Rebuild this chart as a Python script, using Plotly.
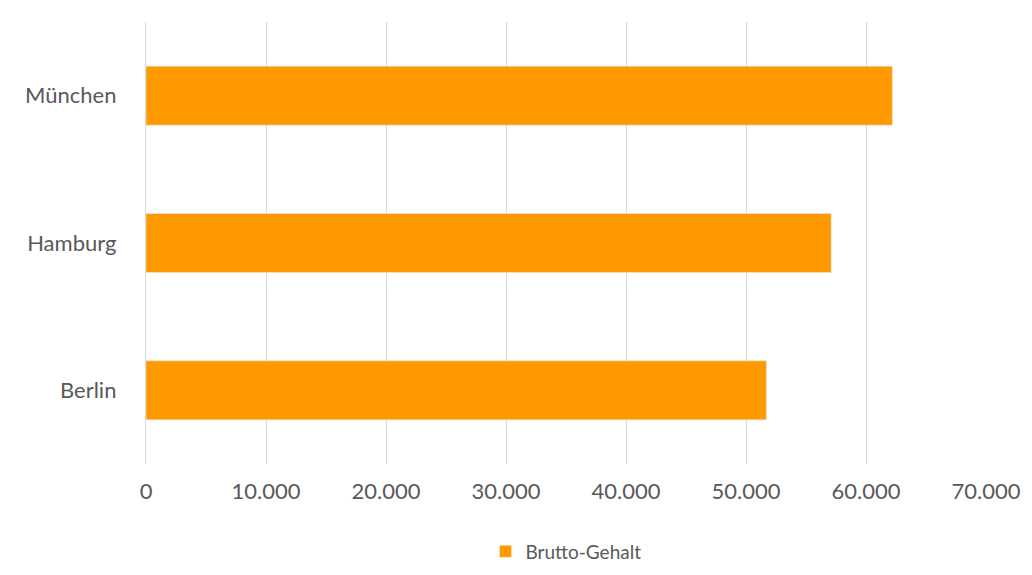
import plotly.graph_objects as go

cities = ["Berlin", "Hamburg", "München"]
salaries = [51700, 57100, 62200]
series_name = "Brutto-Gehalt"

fig = go.Figure(go.Bar(
    y=cities, x=salaries, orientation="h", name=series_name,
    marker_color="#FF9900", showlegend=True,
))
fig.update_layout(
    width=1032, height=575,
    margin=dict(l=138, r=54, t=14, b=111),
    paper_bgcolor="white", plot_bgcolor="white",
    separators=",.",
    bargap=0.6,
    font=dict(family="Lato, Open Sans, sans-serif", size=22, color="#595959"),
    xaxis=dict(range=[0, 70000], dtick=10000, tickformat=",d", automargin=False,
               showgrid=True, gridcolor="#D9D9D9", gridwidth=1.3,
               zeroline=False, ticks="", ticklabelstandoff=12),
    yaxis=dict(showline=True, linecolor="#D9D9D9", linewidth=1.3, automargin=False,
               ticks="", ticklabelstandoff=24),
    legend=dict(orientation="h", x=0.5, xanchor="center", y=-0.155, yanchor="top",
                font=dict(size=19)),
)
fig.write_html("out.html")
